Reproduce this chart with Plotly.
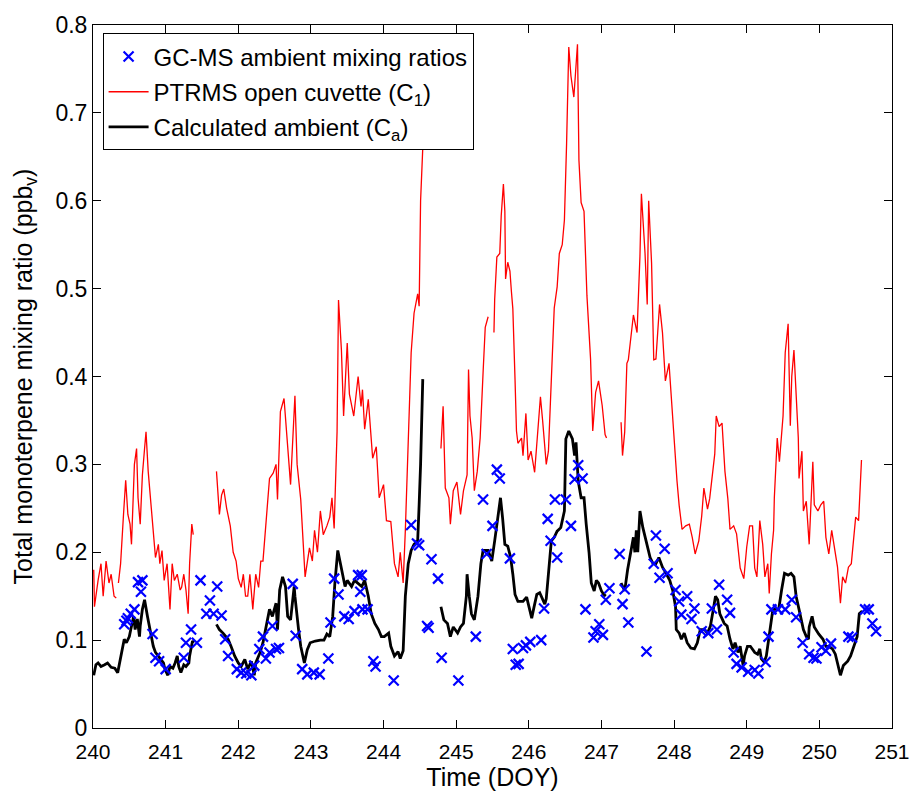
import plotly.graph_objects as go

# ---------------- data ----------------
# PTRMS open cuvette (C1) — None marks gaps in the record
ptrms_doy = [
    240.01, 240.02, 240.07, 240.11, 240.14, 240.18, 240.22, 240.25, 240.29, 240.32, None,
    240.35, 240.38, 240.42, 240.45, 240.48, 240.51, 240.53, 240.57, 240.60, 240.62, 240.65, 240.68,
    240.71, 240.73, 240.76, 240.79, 240.83, 240.86, 240.90, 240.92, 240.95, 240.98, 241.02, 241.06,
    241.09, 241.12, 241.16, 241.20, 241.22, 241.25, 241.28, 241.31, 241.33, 241.36, 241.38, None,
    241.70, 241.74, 241.77, 241.80, 241.84, 241.89, 241.93, 241.97, 242.00, 242.04, 242.07, 242.10,
    242.13, 242.16, 242.20, 242.24, 242.28, 242.31, 242.34, 242.38, 242.43, 242.48, 242.52, 242.54,
    242.58, 242.63, 242.68, 242.72, 242.78, 242.81, 242.86, 242.88, 242.92, 242.98, 243.02, 243.05,
    243.09, 243.13, 243.17, 243.22, 243.26, 243.29, 243.32, 243.36, 243.38, 243.42, 243.45, 243.50,
    243.53, 243.59, 243.65, 243.69, 243.71, 243.74, 243.79, 243.85, 243.90, 243.94, 244.00, 244.04,
    244.10, 244.15, 244.20, 244.23, 244.27, 244.30, 244.34, 244.38, 244.42, 244.47, 244.49, 244.51,
    244.54, None,
    244.79, 244.82, 244.85, 244.90, 244.92, 244.96, 245.01, 245.06, 245.10, 245.15, 245.17, 245.19,
    245.22, 245.25, 245.29, 245.33, 245.37, 245.40, 245.44, None,
    245.52, 245.53, 245.56, 245.60, 245.62, 245.65, 245.67, 245.68, 245.71, 245.74, 245.76, 245.78,
    245.81, 245.83, 245.85, 245.90, 245.92, 245.96, 245.99, 246.03, 246.08, 246.12, 246.16, 246.19,
    246.24, 246.27, 246.30, 246.33, 246.35, 246.39, 246.42, 246.46, 246.49, 246.52, 246.55, 246.58,
    246.62, 246.64, 246.67, 246.69, 246.72, 246.76, 246.80, 246.85, 246.88, 246.92, 246.96, 247.01,
    247.05, 247.07, None,
    247.27, 247.29, 247.32, 247.35, 247.37, 247.40, 247.44, 247.49, 247.53, 247.55, 247.58, 247.60,
    247.63, 247.65, 247.69, 247.72, 247.75, 247.80, 247.84, 247.88, 247.93, 247.97, 248.00, 248.04,
    248.07, 248.11, 248.16, 248.21, 248.25, 248.29, 248.34, 248.38, 248.41, 248.46, 248.49, 248.52,
    248.56, 248.58, 248.62, 248.66, 248.70, 248.74, 248.77, 248.82, 248.86, 248.91, 248.96, 249.00,
    249.04, 249.08, 249.11, 249.14, 249.18, 249.22, 249.25, 249.29, 249.31, 249.34, 249.37, 249.38,
    249.42, 249.45, 249.48, 249.50, 249.53, 249.57, 249.60, 249.62, 249.65, 249.68, 249.71, 249.72,
    249.76, 249.78, 249.82, 249.86, 249.91, 249.93, 249.98, 250.02, 250.06, 250.09, 250.13, 250.17,
    250.21, 250.25, 250.29, 250.32, 250.36, 250.40, 250.44, 250.47, 250.50, 250.54, 250.56, 250.58,
]
ptrms_val = [
    0.180, 0.138, 0.168, 0.187, 0.150, 0.190, 0.165, 0.175, 0.150, 0.148, None,
    0.165, 0.187, 0.243, 0.282, 0.243, 0.232, 0.209, 0.300, 0.318, 0.262, 0.232, 0.288,
    0.318, 0.337, 0.292, 0.262, 0.232, 0.194, 0.209, 0.187, 0.202, 0.168, 0.187, 0.135,
    0.187, 0.168, 0.175, 0.157, 0.160, 0.175, 0.157, 0.130, 0.187, 0.232, 0.220, None,
    0.292, 0.243, 0.265, 0.272, 0.250, 0.230, 0.200, 0.190, 0.170, 0.160, 0.175, 0.150,
    0.150, 0.175, 0.135, 0.175, 0.160, 0.190, 0.190, 0.228, 0.284, 0.290, 0.300, 0.260,
    0.360, 0.375, 0.326, 0.277, 0.378, 0.300, 0.260, 0.225, 0.172, 0.205, 0.190, 0.225,
    0.200, 0.247, 0.220, 0.230, 0.240, 0.262, 0.227, 0.337, 0.487, 0.430, 0.355, 0.438,
    0.380, 0.355, 0.400, 0.366, 0.385, 0.340, 0.374, 0.307, 0.320, 0.262, 0.277, 0.236,
    0.235, 0.187, 0.172, 0.200, 0.165, 0.225, 0.315, 0.427, 0.472, 0.494, 0.480, 0.600,
    0.660, None,
    0.318, 0.366, 0.273, 0.262, 0.232, 0.270, 0.280, 0.243, 0.270, 0.288, 0.408, 0.355,
    0.330, 0.270, 0.292, 0.330, 0.404, 0.456, 0.468, None,
    0.450, 0.488, 0.536, 0.540, 0.583, 0.619, 0.588, 0.511, 0.530, 0.520, 0.497, 0.477,
    0.397, 0.338, 0.324, 0.330, 0.310, 0.358, 0.305, 0.315, 0.291, 0.330, 0.377, 0.350,
    0.300, 0.315, 0.377, 0.454, 0.478, 0.502, 0.540, 0.550, 0.578, 0.665, 0.775, 0.742,
    0.718, 0.742, 0.778, 0.646, 0.598, 0.588, 0.492, 0.420, 0.338, 0.382, 0.395, 0.367,
    0.334, 0.330, None,
    0.348, 0.310, 0.337, 0.415, 0.419, 0.442, 0.470, 0.450, 0.537, 0.608, 0.570, 0.540,
    0.482, 0.600, 0.529, 0.419, 0.420, 0.482, 0.450, 0.395, 0.415, 0.363, 0.328, 0.281,
    0.253, 0.226, 0.230, 0.232, 0.217, 0.198, 0.213, 0.241, 0.273, 0.249, 0.261, 0.281,
    0.312, 0.355, 0.343, 0.347, 0.292, 0.261, 0.226, 0.230, 0.221, 0.182, 0.170, 0.206,
    0.230, 0.230, 0.182, 0.172, 0.236, 0.209, 0.172, 0.187, 0.153, 0.198, 0.225, 0.262,
    0.330, 0.303, 0.330, 0.355, 0.427, 0.460, 0.344, 0.400, 0.430, 0.385, 0.330, 0.284,
    0.315, 0.247, 0.258, 0.209, 0.303, 0.254, 0.247, 0.254, 0.258, 0.217, 0.198, 0.225,
    0.202, 0.183, 0.142, 0.172, 0.165, 0.183, 0.187, 0.213, 0.240, 0.236, 0.265, 0.305,
]

# Calculated ambient (Ca)
calc_doy = [
    240.01, 240.04, 240.07, 240.11, 240.16, 240.20, 240.25, 240.30, 240.34, 240.38, 240.43, 240.46,
    240.50, 240.52, 240.56, 240.58, 240.61, 240.64, 240.65, 240.68, 240.71, 240.75, 240.79, 240.83,
    240.86, 240.90, 240.92, 240.97, 240.99, 241.03, 241.06, 241.10, 241.13, 241.16, 241.18, 241.21,
    241.25, 241.28, 241.32, 241.33, 241.37, 241.39, None,
    241.70, 241.74, 241.79, 241.86, 241.90, 241.95, 242.00, 242.04, 242.09, 242.13, 242.18, 242.22,
    242.24, 242.30, 242.34, 242.38, 242.43, 242.47, 242.52, 242.54, 242.57, 242.61, 242.65, 242.68,
    242.72, 242.77, 242.78, 242.83, 242.86, 242.91, 242.95, 242.99, 243.06, 243.13, 243.18, 243.22,
    243.26, 243.30, 243.33, 243.37, 243.40, 243.44, 243.47, 243.50, 243.56, 243.60, 243.65, 243.70,
    243.74, 243.79, 243.83, 243.88, 243.93, 243.97, 244.01, 244.07, 244.10, 244.15, 244.20, 244.23,
    244.27, 244.30, 244.34, 244.38, 244.42, 244.47, 244.49, 244.51, 244.54, None,
    244.79, 244.83, 244.88, 244.92, 244.96, 245.02, 245.06, 245.10, 245.14, 245.15, 245.18, 245.21,
    245.25, 245.30, 245.34, 245.37, 245.44, 245.49, 245.53, 245.57, 245.61, 245.64, 245.67, 245.71,
    245.75, 245.78, 245.81, 245.85, 245.92, 245.97, 246.00, 246.04, 246.07, 246.11, 246.15, 246.19,
    246.22, 246.24, 246.27, 246.31, 246.35, 246.39, 246.44, 246.49, 246.51, 246.55, 246.60, 246.63,
    246.65, 246.68, 246.72, 246.76, 246.79, 246.83, 246.86, 246.90, 246.93, 246.96, 247.00, 247.03,
    247.06, None,
    247.27, 247.32, 247.36, 247.40, 247.44, 247.46, 247.48, 247.50, 247.53, 247.57, 247.61, 247.67,
    247.71, 247.75, 247.79, 247.84, 247.89, 247.94, 247.98, 248.02, 248.03, 248.07, 248.10, 248.14,
    248.18, 248.23, 248.28, 248.32, 248.36, 248.42, 248.46, 248.50, 248.54, 248.57, 248.60, 248.63,
    248.69, 248.73, 248.77, 248.81, 248.84, 248.88, 248.91, 248.95, 248.97, 249.01, 249.05, 249.11,
    249.15, 249.18, 249.20, 249.24, 249.27, 249.31, 249.36, 249.38, 249.44, 249.48, 249.52, 249.57,
    249.61, 249.65, 249.68, 249.72, 249.78, 249.82, 249.85, 249.86, 249.90, 249.93, 249.95, 249.99,
    250.05, 250.09, 250.13, 250.18, 250.22, 250.27, 250.29, 250.33, 250.39, 250.43, 250.47, 250.52,
    250.55, 250.59,
]
calc_val = [
    0.060, 0.072, 0.074, 0.070, 0.072, 0.074, 0.069, 0.068, 0.063, 0.082, 0.101, 0.097,
    0.104, 0.112, 0.127, 0.112, 0.124, 0.104, 0.116, 0.135, 0.146, 0.127, 0.112, 0.093,
    0.086, 0.082, 0.080, 0.074, 0.067, 0.060, 0.070, 0.068, 0.074, 0.082, 0.070, 0.063,
    0.072, 0.070, 0.074, 0.082, 0.099, 0.097, None,
    0.118, 0.112, 0.108, 0.101, 0.093, 0.082, 0.074, 0.070, 0.078, 0.067, 0.076, 0.060,
    0.074, 0.086, 0.097, 0.116, 0.135, 0.127, 0.142, 0.112, 0.157, 0.172, 0.161, 0.127,
    0.123, 0.161, 0.150, 0.112, 0.093, 0.074, 0.089, 0.097, 0.099, 0.100, 0.100, 0.107,
    0.104, 0.127, 0.165, 0.202, 0.190, 0.175, 0.161, 0.168, 0.161, 0.168, 0.165, 0.161,
    0.168, 0.150, 0.130, 0.119, 0.112, 0.104, 0.104, 0.108, 0.093, 0.082, 0.087, 0.079,
    0.088, 0.150, 0.187, 0.202, 0.209, 0.213, 0.254, 0.300, 0.397, None,
    0.138, 0.123, 0.119, 0.104, 0.115, 0.108, 0.115, 0.119, 0.150, 0.175, 0.150, 0.130,
    0.123, 0.150, 0.187, 0.202, 0.202, 0.190, 0.213, 0.238, 0.262, 0.238, 0.209, 0.207,
    0.194, 0.175, 0.152, 0.144, 0.144, 0.149, 0.137, 0.125, 0.137, 0.152, 0.154, 0.147,
    0.141, 0.147, 0.175, 0.213, 0.217, 0.224, 0.228, 0.247, 0.329, 0.338, 0.329, 0.310,
    0.325, 0.281, 0.262, 0.262, 0.232, 0.199, 0.165, 0.156, 0.168, 0.165, 0.156, 0.152,
    0.150, None,
    0.165, 0.156, 0.180, 0.200, 0.217, 0.200, 0.225, 0.200, 0.247, 0.228, 0.213, 0.194,
    0.187, 0.187, 0.194, 0.183, 0.176, 0.168, 0.157, 0.138, 0.112, 0.108, 0.101, 0.108,
    0.097, 0.091, 0.090, 0.097, 0.112, 0.112, 0.108, 0.116, 0.135, 0.150, 0.146, 0.130,
    0.119, 0.116, 0.101, 0.090, 0.097, 0.086, 0.093, 0.071, 0.082, 0.093, 0.093, 0.086,
    0.084, 0.090, 0.079, 0.075, 0.082, 0.108, 0.135, 0.135, 0.135, 0.157, 0.176, 0.174,
    0.176, 0.172, 0.150, 0.135, 0.112, 0.104, 0.101, 0.115, 0.127, 0.115, 0.112, 0.107,
    0.101, 0.093, 0.093, 0.090, 0.084, 0.067, 0.060, 0.071, 0.076, 0.082, 0.093, 0.104,
    0.130, 0.133,
]

# GC-MS ambient mixing ratios (discrete samples)
gcms_doy = [
    240.43, 240.46, 240.48, 240.52, 240.57, 240.62, 240.66, 240.68, 240.82, 240.86, 240.91, 241.00,
    241.25, 241.28, 241.35, 241.43, 241.48, 241.56, 241.61, 241.66, 241.71, 241.77, 241.82, 241.86,
    241.98, 242.04, 242.11, 242.18, 242.22, 242.29, 242.34, 242.38, 242.43, 242.47, 242.52, 242.56,
    242.75, 242.79, 242.88, 242.95, 243.04, 243.12, 243.24, 243.27, 243.32, 243.38, 243.46, 243.52,
    243.60, 243.65, 243.68, 243.70, 243.71, 243.78, 243.86, 243.89, 244.14, 244.38, 244.46, 244.49,
    244.60, 244.62, 244.66, 244.75, 244.80, 245.03, 245.27, 245.37, 245.42, 245.50, 245.56, 245.60,
    245.74, 245.78, 245.82, 245.86, 245.92, 245.96, 246.02, 246.17, 246.21, 246.26, 246.30, 246.36,
    246.39, 246.51, 246.58, 246.63, 246.68, 246.74, 246.78, 246.89, 246.92, 246.97, 247.02, 247.06,
    247.11, 247.25, 247.29, 247.32, 247.37, 247.62, 247.72, 247.75, 247.80, 247.87, 247.91, 248.02,
    248.07, 248.10, 248.18, 248.24, 248.28, 248.38, 248.47, 248.52, 248.59, 248.62, 248.73, 248.77,
    248.82, 248.86, 248.93, 249.02, 249.11, 249.16, 249.26, 249.30, 249.34, 249.43, 249.53, 249.62,
    249.68, 249.77, 249.86, 249.92, 249.96, 250.03, 250.09, 250.16, 250.40, 250.45, 250.63, 250.68,
    250.73, 250.78,
]
gcms_val = [
    0.118, 0.122, 0.125, 0.130, 0.135, 0.166, 0.155, 0.168, 0.107, 0.080, 0.076, 0.067,
    0.080, 0.097, 0.112, 0.097, 0.168, 0.130, 0.145, 0.130, 0.161, 0.128, 0.101, 0.082,
    0.067, 0.063, 0.062, 0.060, 0.071, 0.090, 0.104, 0.079, 0.086, 0.116, 0.090, 0.091,
    0.164, 0.105, 0.067, 0.061, 0.063, 0.061, 0.079, 0.120, 0.170, 0.152, 0.127, 0.124,
    0.133, 0.174, 0.155, 0.174, 0.135, 0.135, 0.076, 0.070, 0.054, 0.231, 0.210, 0.208,
    0.116, 0.114, 0.192, 0.170, 0.080, 0.054, 0.104, 0.260, 0.198, 0.230, 0.294, 0.284,
    0.193, 0.090, 0.072, 0.073, 0.091, 0.094, 0.098, 0.100, 0.136, 0.238, 0.213, 0.260,
    0.194, 0.260, 0.230, 0.283, 0.299, 0.284, 0.135, 0.103, 0.110, 0.118, 0.106, 0.146,
    0.159, 0.198, 0.141, 0.158, 0.120, 0.087, 0.187, 0.219, 0.171, 0.204, 0.176, 0.157,
    0.144, 0.129, 0.150, 0.124, 0.136, 0.110, 0.108, 0.136, 0.112, 0.163, 0.146, 0.131,
    0.086, 0.073, 0.069, 0.064, 0.066, 0.062, 0.075, 0.104, 0.135, 0.135, 0.135, 0.146,
    0.126, 0.097, 0.084, 0.080, 0.079, 0.092, 0.088, 0.096, 0.104, 0.103, 0.135, 0.135,
    0.119, 0.110,
]

x_ticks = [240, 241, 242, 243, 244, 245, 246, 247, 248, 249, 250, 251]
y_ticks = [0, 0.1, 0.2, 0.3, 0.4, 0.5, 0.6, 0.7, 0.8]
y_tick_text = ["0", "0.1", "0.2", "0.3", "0.4", "0.5", "0.6", "0.7", "0.8"]

FONT = "Liberation Sans, Arial, Helvetica, sans-serif"

fig = go.Figure()

fig.add_trace(go.Scatter(
    x=ptrms_doy, y=ptrms_val, mode="lines",
    name="PTRMS open cuvette (C<sub>1</sub>)",
    line=dict(color="#ff0000", width=1.3),
    connectgaps=False, legendrank=2, legendgroup="b",
))
fig.add_trace(go.Scatter(
    x=calc_doy, y=calc_val, mode="lines",
    name="Calculated ambient (C<sub>a</sub>)",
    line=dict(color="#000000", width=2.8),
    connectgaps=False, legendrank=3, legendgroup="c",
))
fig.add_trace(go.Scatter(
    x=gcms_doy, y=gcms_val, mode="markers",
    name="GC-MS ambient mixing ratios",
    marker=dict(symbol="x-thin", size=10, color="#0000ff",
                line=dict(color="#0000ff", width=2.2)),
    legendrank=1, legendgroup="a",
))

axis_common = dict(
    showgrid=False, zeroline=False, showline=True, linecolor="black", linewidth=1,
    mirror="ticks", ticks="inside", ticklen=8, tickwidth=1, tickcolor="black",
)

fig.update_layout(
    width=922, height=793,
    margin=dict(l=93, r=20, t=21, b=60),
    paper_bgcolor="white", plot_bgcolor="white",
    font=dict(family=FONT, color="black"),
    showlegend=True,
    legend=dict(
        x=0.012, y=0.988, xanchor="left", yanchor="top",
        bgcolor="white", bordercolor="black", borderwidth=1,
        font=dict(family=FONT, size=24, color="black"),
        traceorder="grouped", tracegroupgap=1,
        itemwidth=40,
    ),
    xaxis=dict(
        range=[240, 251], tickmode="array", tickvals=x_ticks,
        ticktext=[str(t) for t in x_ticks],
        tickfont=dict(family=FONT, size=21, color="black"),
        ticklabelstandoff=5,
        title=dict(text="Time (DOY)", font=dict(family=FONT, size=25, color="black"), standoff=0),
        **axis_common,
    ),
    yaxis=dict(
        range=[0, 0.8], tickmode="array", tickvals=y_ticks, ticktext=y_tick_text,
        tickfont=dict(family=FONT, size=23, color="black"),
        title=dict(text="Total monoterpene mixing ratio (ppb<sub>v</sub>)",
                   font=dict(family=FONT, size=25, color="black"), standoff=15),
        **axis_common,
    ),
)

fig.write_html("out.html")
